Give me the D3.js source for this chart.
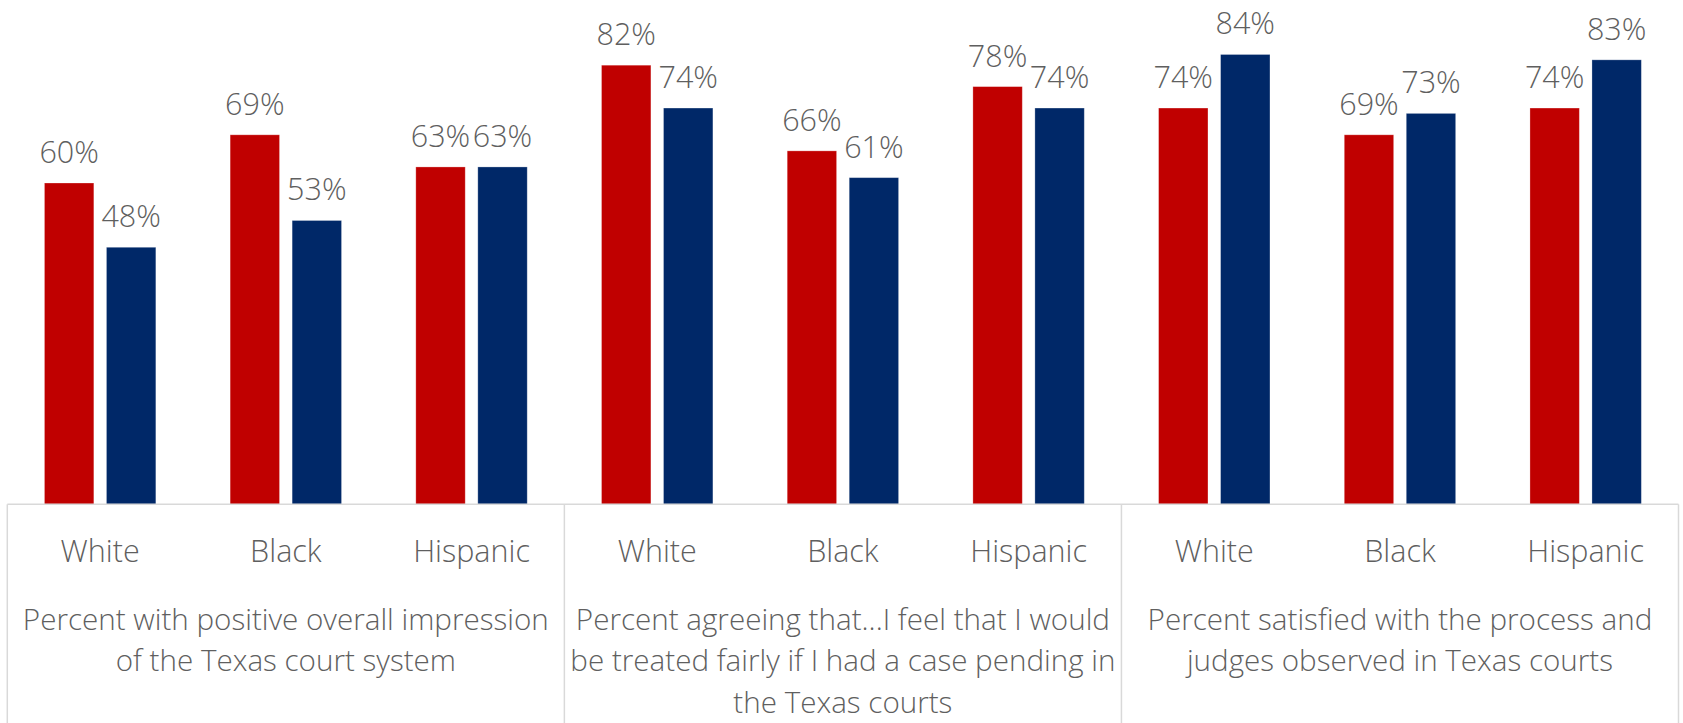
<!DOCTYPE html>
<html>
<head>
<meta charset="utf-8">
<script src="https://cdn.jsdelivr.net/npm/d3@7"></script>
<style>
  html, body { margin: 0; padding: 0; background: #fff; }
  svg text { font-family: "Segoe UI Light", "Open Sans", "Noto Sans", sans-serif; font-weight: 300; fill: #5f5f5f; }
</style>
</head>
<body>
<svg id="chart" width="1683" height="723"></svg>
<script>
// ---- data ----
const groups = [
  ["Percent with positive overall impression", "of the Texas court system"],
  ["Percent agreeing that...I feel that I would", "be treated fairly if I had a case pending in", "the Texas courts"],
  ["Percent satisfied with the process and", "judges observed in Texas courts"]
];
const races = ["White", "Black", "Hispanic"];
const seriesRed  = [0.60, 0.69, 0.63, 0.82, 0.66, 0.78, 0.74, 0.69, 0.74];
const seriesBlue = [0.48, 0.53, 0.63, 0.74, 0.61, 0.74, 0.84, 0.73, 0.83];
const seriesColors = ["#C00000", "#002868"];

// ---- layout ----
const W = 1683, H = 723;
const left = 7.3, right = 1678.5, axisY = 504.3;
const svg = d3.select("#chart");

const cats = [];
groups.forEach((g, gi) => races.forEach((r, ri) => cats.push({ id: gi + "-" + ri, gi, race: r })));

const x = d3.scaleBand().domain(cats.map(d => d.id)).range([left, right]).padding(0);
const xg = d3.scaleBand().domain(groups.map((g, i) => i)).range([left, right]).padding(0);
const y = d3.scaleLinear().domain([0, 1]).range([axisY, axisY - 535.5]);

const barW = 49.4, gap = 12.6;

const data = cats.map((c, i) => ({ ...c, vals: [seriesRed[i], seriesBlue[i]] }));

// bars
const catG = svg.selectAll("g.cat").data(data).join("g").attr("class", "cat");
catG.each(function (d) {
  const g = d3.select(this);
  const cx = x(d.id) + x.bandwidth() / 2;
  d.vals.forEach((v, si) => {
    const bx = si === 0 ? cx - gap / 2 - barW : cx + gap / 2;
    g.append("rect")
      .attr("x", bx).attr("width", barW)
      .attr("y", y(v)).attr("height", y(0) - y(v))
      .attr("fill", seriesColors[si])
      .attr("stroke", "#ffffff").attr("stroke-opacity", 0.35).attr("stroke-width", 0.8);
    g.append("text")
      .attr("x", bx + barW / 2).attr("y", y(v) - 20)
      .attr("text-anchor", "middle")
      .attr("font-size", 30.5)
      .text(Math.round(v * 100) + "%");
  });
  g.append("text")
    .attr("x", cx).attr("y", 562)
    .attr("text-anchor", "middle")
    .attr("font-size", 30.5)
    .text(d.race);
});

// axis lines
const lineColor = "#d9d9d9";
svg.append("line").attr("x1", left).attr("x2", right).attr("y1", axisY).attr("y2", axisY)
  .attr("stroke", lineColor).attr("stroke-width", 1.5);
const bounds = [0, 1, 2].map(i => xg(i)).concat([right]);
svg.selectAll("line.div").data(bounds).join("line").attr("class", "div")
  .attr("x1", d => d).attr("x2", d => d).attr("y1", axisY).attr("y2", H)
  .attr("stroke", lineColor).attr("stroke-width", 1.5);

// group labels
groups.forEach((lines, gi) => {
  const cx = xg(gi) + xg.bandwidth() / 2;
  const t = svg.append("text").attr("text-anchor", "middle").attr("font-size", 29.6);
  lines.forEach((ln, li) => {
    t.append("tspan").attr("x", cx).attr("y", 630 + li * 41.3).text(ln);
  });
});
</script>
</body>
</html>
